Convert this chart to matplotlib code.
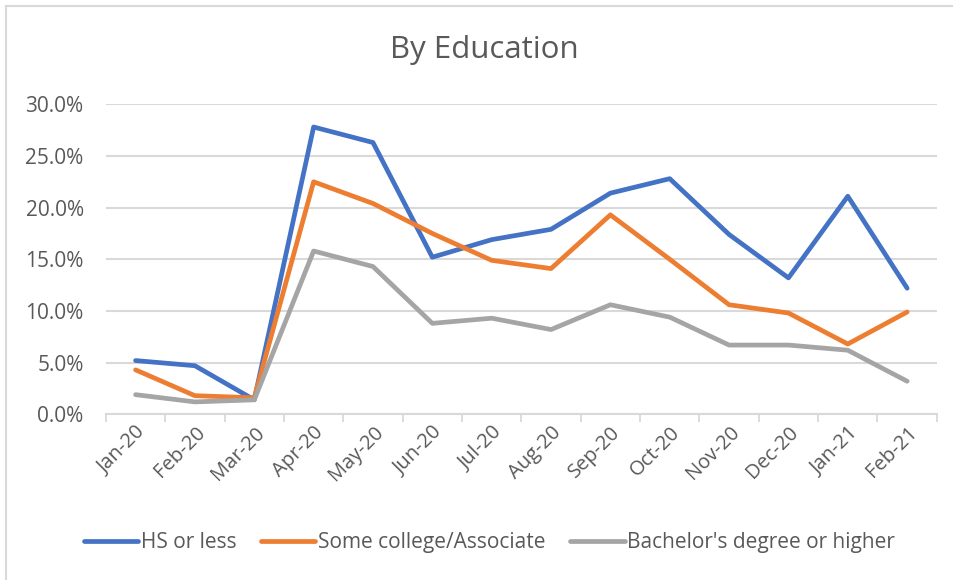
import matplotlib
matplotlib.use("Agg")
import matplotlib.pyplot as plt
from matplotlib.lines import Line2D
from matplotlib.ticker import FuncFormatter, FixedLocator

plt.rcParams['font.family'] = ['Open Sans', 'DejaVu Sans']

months = ["Jan-20", "Feb-20", "Mar-20", "Apr-20", "May-20", "Jun-20", "Jul-20",
          "Aug-20", "Sep-20", "Oct-20", "Nov-20", "Dec-20", "Jan-21", "Feb-21"]
hs_or_less = [5.2, 4.7, 1.4, 27.8, 26.3, 15.2, 16.9, 17.9, 21.4, 22.8, 17.4, 13.2, 21.1, 12.2]
some_college = [4.3, 1.8, 1.6, 22.5, 20.4, 17.5, 14.9, 14.1, 19.3, 15.0, 10.6, 9.8, 6.8, 9.9]
bachelors = [1.9, 1.2, 1.4, 15.8, 14.3, 8.8, 9.3, 8.2, 10.6, 9.4, 6.7, 6.7, 6.2, 3.2]
series_names = ["HS or less", "Some college/Associate", "Bachelor's degree or higher"]
colors = ["#4472C4", "#ED7D31", "#A5A5A5"]
yticks = [0, 5, 10, 15, 20, 25, 30]

fig = plt.figure(figsize=(9.54, 5.8), dpi=100)
ax = fig.add_axes([0.111, 0.2857, 0.871, 0.5345])

x = list(range(len(months)))
for vals, name, c in zip([hs_or_less, some_college, bachelors], series_names, colors):
    ax.plot(x, vals, color=c, lw=3.4, label=name, solid_joinstyle='round',
            solid_capstyle='round', zorder=3)

ax.set_xlim(-0.5, len(months) - 0.5)
ax.set_ylim(0, 30)
ax.set_yticks(yticks)
ax.yaxis.set_major_formatter(FuncFormatter(lambda v, p: f"{v:.1f}%"))
ax.grid(axis='y', color='#D9D9D9', lw=1.5, zorder=0)
ax.set_axisbelow(True)

ax.set_xticks(x)
ax.set_xticklabels(months, rotation=45, ha='right', va='top', rotation_mode='anchor')
ax.xaxis.set_minor_locator(FixedLocator([i - 0.5 for i in range(len(months) + 1)]))
ax.tick_params(axis='x', which='major', length=0, pad=6, labelsize=14.5, labelcolor='#595959')
ax.tick_params(axis='x', which='minor', length=6, width=1.3, color='#D9D9D9')
ax.tick_params(axis='y', length=0, pad=16, labelsize=15, labelcolor='#595959')

for s in ['top', 'right', 'left']:
    ax.spines[s].set_visible(False)
ax.spines['bottom'].set_color('#D9D9D9')
ax.spines['bottom'].set_linewidth(1.5)

fig.text(0.508, 0.913, "By Education", ha='center', va='center', fontsize=22.5, color='#595959')

leg = fig.legend(loc='center', bbox_to_anchor=(0.513, 0.064), ncol=3, frameon=False,
                 fontsize=15, handlelength=2.6, handletextpad=0.12, columnspacing=1.2,
                 labelcolor='#595959')
for h in leg.get_lines():
    h.set_solid_capstyle('round')

# chart frame
fig.add_artist(Line2D([6.5 / 954, 1.0], [1 - 5.5 / 580, 1 - 5.5 / 580],
                      transform=fig.transFigure, color='#D9D9D9', lw=1.5))
fig.add_artist(Line2D([6.5 / 954, 6.5 / 954], [0, 1 - 5.5 / 580],
                      transform=fig.transFigure, color='#D9D9D9', lw=1.5))

fig.savefig("out.png", dpi=100)
